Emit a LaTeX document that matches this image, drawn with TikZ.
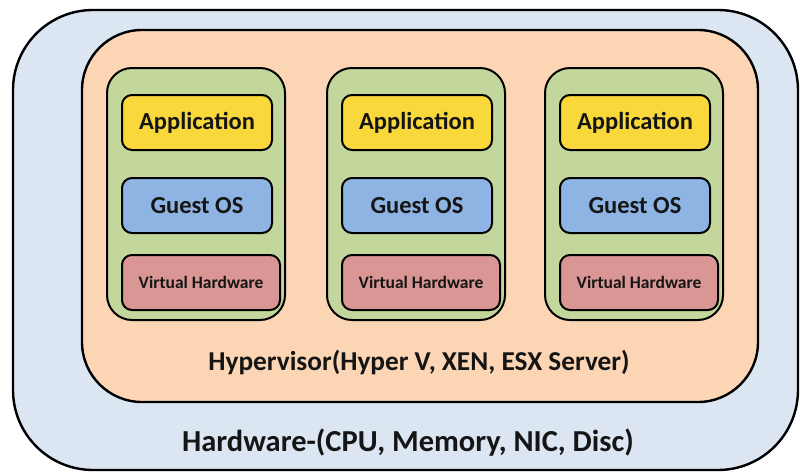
\documentclass[tikz,border=0pt]{standalone}
\usepackage{fontspec}
\setmainfont{Carlito}
\definecolor{hwfill}{HTML}{DCE6F2}
\definecolor{hvfill}{HTML}{FCD5B5}
\definecolor{vmfill}{HTML}{C3D69B}
\definecolor{appfill}{HTML}{F9D83C}
\definecolor{osfill}{HTML}{8EB4E3}
\definecolor{vhfill}{HTML}{D99694}
\definecolor{txt}{HTML}{151515}
\begin{document}
\begin{tikzpicture}[x=1pt,y=-1pt,
  layer/.style={draw=black,line width=2.4pt,rounded corners=#1},
  vmbox/.style={draw=black,line width=2pt,fill=vmfill,rounded corners=25pt,minimum width=178pt,minimum height=252pt,inner sep=0pt},
  inbox/.style={draw=black,line width=2pt,rounded corners=10pt,minimum height=55pt,inner sep=0pt,text=txt,font=\bfseries\fontsize{24.5}{24.5}\selectfont},
  appbox/.style={inbox,fill=appfill,minimum width=150pt},
  osbox/.style={inbox,fill=osfill,minimum width=150pt},
  vhbox/.style={inbox,fill=vhfill,minimum width=158pt,font=\bfseries\fontsize{17.5}{17.5}\selectfont}]
\useasboundingbox (0,0) rectangle (804,474);
\node[layer=80pt,fill=hwfill,minimum width=785pt,minimum height=460pt,inner sep=0pt] (hw) at (405.5,240) {};
\node[layer=60pt,fill=hvfill,minimum width=676pt,minimum height=372pt,inner sep=0pt] (hv) at (420,216) {};
\foreach \i/\cx in {1/196,2/416,3/634}{
  \node[vmbox] (vm\i) at (\cx,194) {};
  \node[appbox] (app\i) at (\cx+1,122.5) {Application};
  \node[osbox] (os\i) at (\cx+1,205.5) {Guest OS};
  \node[vhbox] (vh\i) at (\cx+5,282.5) {Virtual Hardware};
}
\node[text=txt,font=\bfseries\fontsize{27.3}{27.3}\selectfont] (hvlabel) at (419,363) {Hypervisor(Hyper V, XEN, ESX Server)};
\node[text=txt,font=\bfseries\fontsize{30.5}{30.5}\selectfont] (hwlabel) at (408,443) {Hardware-(CPU, Memory, NIC, Disc)};
\end{tikzpicture}
\end{document}
